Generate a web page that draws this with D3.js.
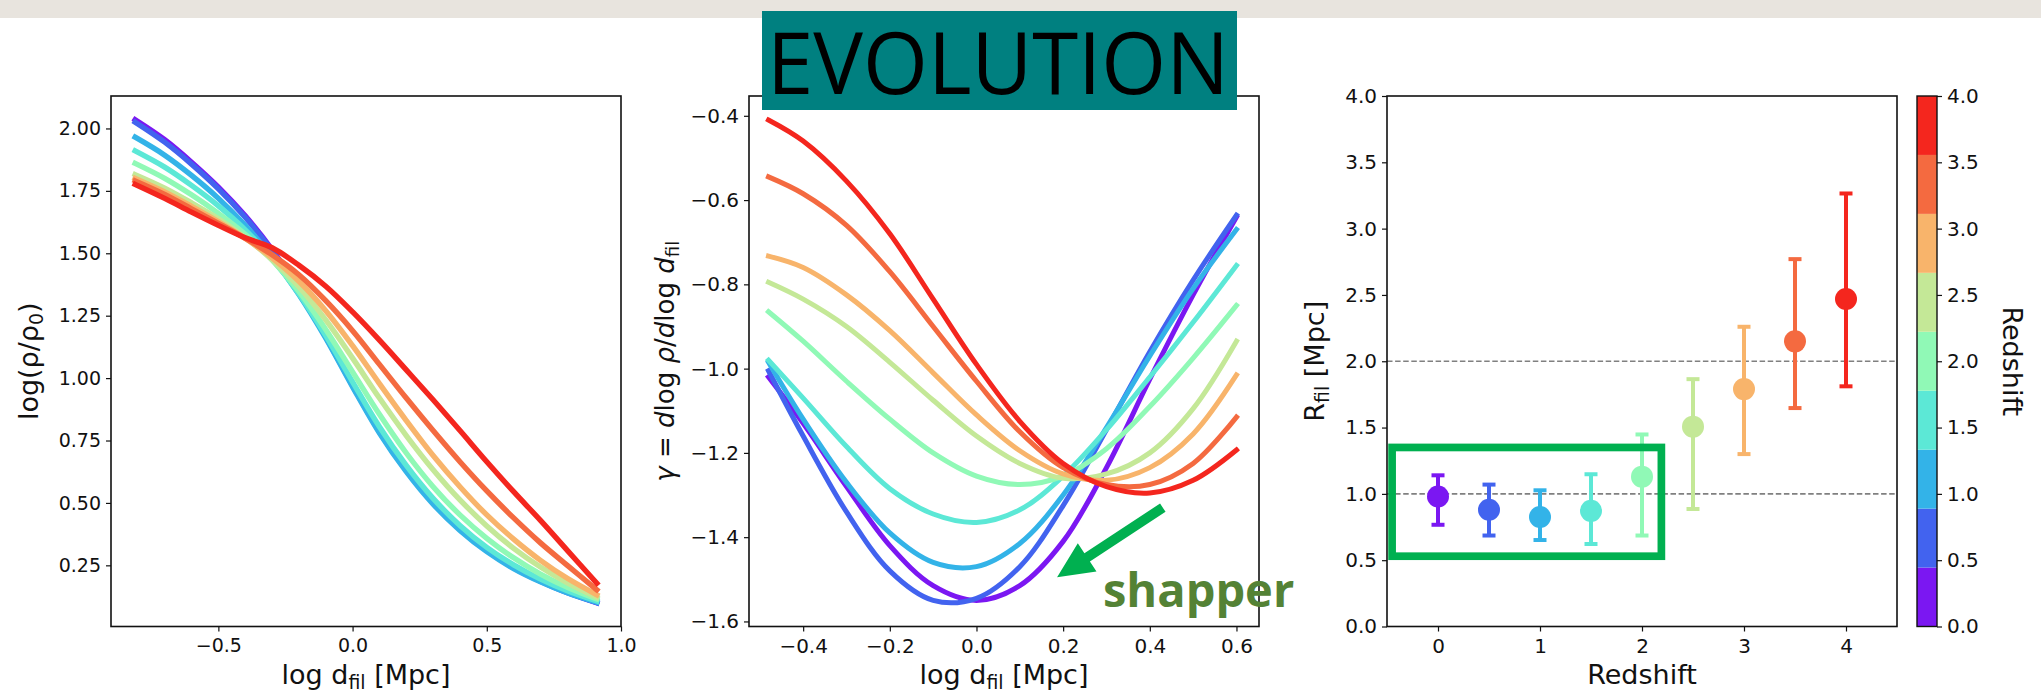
<!DOCTYPE html>
<html>
<head>
<meta charset="utf-8">
<script src="https://cdn.jsdelivr.net/npm/d3@7"></script>
<style>
  body { margin: 0; background: #fff; }
  svg { display: block; }
</style>
</head>
<body>
<div id="chart"></div>
<script>
/**
 * DATA
 * */
const redshifts = [0, 0.5, 1, 1.5, 2, 2.5, 3, 3.5, 4];
const zColors = ["#7b17f2", "#4263ef", "#33b3e8", "#5ce8d6", "#90f9b6",
                 "#c4e897", "#f8b46b", "#f46a40", "#f4261e"];

// left panel: log(rho/rho0) against log d_fil
const densX = [-0.81, -0.7, -0.6, -0.5, -0.4, -0.3, -0.2, -0.1, 0.0, 0.1, 0.2, 0.3, 0.4, 0.5, 0.6, 0.7, 0.8, 0.91];
const dens_z00 = [2.035, 1.955, 1.865, 1.765, 1.65, 1.515, 1.355, 1.17, 0.975, 0.79, 0.635, 0.505, 0.40, 0.315, 0.245, 0.19, 0.143, 0.10];
const dens_z05 = [2.025, 1.945, 1.857, 1.758, 1.644, 1.51, 1.35, 1.165, 0.97, 0.785, 0.63, 0.50, 0.395, 0.31, 0.24, 0.186, 0.14, 0.10];
const dens_z10 = [1.965, 1.893, 1.812, 1.72, 1.612, 1.485, 1.335, 1.16, 0.965, 0.78, 0.625, 0.495, 0.39, 0.305, 0.237, 0.184, 0.14, 0.102];
const dens_z15 = [1.91, 1.845, 1.772, 1.69, 1.594, 1.478, 1.338, 1.17, 0.985, 0.805, 0.65, 0.518, 0.41, 0.322, 0.252, 0.195, 0.148, 0.107];
const dens_z20 = [1.86, 1.80, 1.734, 1.66, 1.576, 1.474, 1.348, 1.195, 1.025, 0.855, 0.70, 0.565, 0.452, 0.358, 0.28, 0.215, 0.162, 0.115];
const dens_z25 = [1.815, 1.761, 1.702, 1.638, 1.563, 1.474, 1.366, 1.233, 1.08, 0.92, 0.77, 0.633, 0.512, 0.408, 0.318, 0.243, 0.18, 0.122];
const dens_z30 = [1.80, 1.746, 1.688, 1.627, 1.56, 1.482, 1.388, 1.27, 1.13, 0.978, 0.83, 0.69, 0.565, 0.452, 0.355, 0.27, 0.198, 0.132];
const dens_z35 = [1.79, 1.736, 1.678, 1.62, 1.56, 1.494, 1.414, 1.31, 1.19, 1.055, 0.92, 0.79, 0.665, 0.548, 0.44, 0.34, 0.25, 0.152];
const dens_z40 = [1.776, 1.72, 1.665, 1.612, 1.562, 1.522, 1.452, 1.368, 1.265, 1.152, 1.033, 0.913, 0.79, 0.665, 0.545, 0.43, 0.31, 0.178];

// middle panel: slope gamma against log d_fil
const slopeX = [-0.48, -0.4, -0.3, -0.2, -0.1, 0.0, 0.1, 0.2, 0.3, 0.4, 0.5, 0.6];
const slope_z00 = [-1.02, -1.13, -1.28, -1.42, -1.515, -1.55, -1.515, -1.41, -1.235, -1.025, -0.825, -0.64];
const slope_z05 = [-1.005, -1.16, -1.34, -1.48, -1.55, -1.545, -1.47, -1.325, -1.145, -0.96, -0.79, -0.636];
const slope_z10 = [-0.985, -1.12, -1.27, -1.39, -1.46, -1.47, -1.415, -1.30, -1.14, -0.97, -0.81, -0.67];
const slope_z15 = [-0.98, -1.07, -1.185, -1.285, -1.345, -1.365, -1.335, -1.255, -1.145, -1.02, -0.89, -0.755];
const slope_z20 = [-0.865, -0.935, -1.03, -1.12, -1.20, -1.255, -1.275, -1.255, -1.19, -1.09, -0.975, -0.85];
const slope_z25 = [-0.795, -0.835, -0.90, -0.985, -1.075, -1.16, -1.225, -1.26, -1.25, -1.20, -1.095, -0.935];
const slope_z30 = [-0.733, -0.76, -0.825, -0.91, -1.01, -1.11, -1.195, -1.25, -1.265, -1.235, -1.155, -1.015];
const slope_z35 = [-0.545, -0.585, -0.66, -0.77, -0.90, -1.03, -1.15, -1.235, -1.275, -1.275, -1.225, -1.115];
const slope_z40 = [-0.41, -0.46, -0.555, -0.68, -0.835, -0.99, -1.125, -1.225, -1.28, -1.295, -1.265, -1.193];

// right panel: filament radius with error bars
const rfil   = [0.98, 0.88, 0.825, 0.872, 1.13, 1.507, 1.79, 2.15, 2.47];
const rfilHi = [1.14, 1.07, 1.027, 1.148, 1.448, 1.865, 2.26, 2.77, 3.265];
const rfilLo = [0.767, 0.686, 0.652, 0.622, 0.686, 0.886, 1.30, 1.647, 1.811];
const refLines = [1.0, 2.0];

// ticks
const densXTicks = [-0.5, 0, 0.5, 1.0];
const densYTicks = [0.25, 0.5, 0.75, 1.0, 1.25, 1.5, 1.75, 2.0];
const slopeXTicks = [-0.4, -0.2, 0, 0.2, 0.4, 0.6];
const slopeYTicks = [-1.6, -1.4, -1.2, -1.0, -0.8, -0.6, -0.4];
const rXTicks = [0, 1, 2, 3, 4];
const rYTicks = [0, 0.5, 1, 1.5, 2, 2.5, 3, 3.5, 4];

const densProfiles = [dens_z00, dens_z05, dens_z10, dens_z15, dens_z20, dens_z25, dens_z30, dens_z35, dens_z40];
const slopeProfiles = [slope_z00, slope_z05, slope_z10, slope_z15, slope_z20, slope_z25, slope_z30, slope_z35, slope_z40];

/**
 * LAYOUT
 * */
const W = 2041, H = 694;
const top0 = 96, bot0 = 626.5;
const boxL = { x0: 111, x1: 621, y0: top0, y1: bot0 };
const boxM = { x0: 749, x1: 1259, y0: top0, y1: bot0 };
const boxR = { x0: 1387, x1: 1897, y0: top0, y1: bot0 };
const cbar = { x0: 1917, x1: 1937, y0: top0, y1: bot0 };
const ink = "#111";
const labelY = 684;

const svg = d3.select("#chart").append("svg")
  .attr("width", W).attr("height", H)
  .attr("font-family", "'DejaVu Sans', sans-serif");

svg.append("rect").attr("width", W).attr("height", H).attr("fill", "#fff");
svg.append("rect").attr("width", W).attr("height", 18).attr("fill", "#e8e4de");

function styleAxis(a, fs) {
  a.select(".domain").remove();
  a.selectAll("text").attr("font-size", fs).attr("font-family", "'DejaVu Sans'").attr("fill", ink);
  a.selectAll("line").attr("stroke", ink).attr("stroke-width", 1.2);
}

function makePanel(box, xDom, yDom, xTicks, yTicks, xFmt, yFmt, fs) {
  const x = d3.scaleLinear().domain(xDom).range([box.x0, box.x1]);
  const y = d3.scaleLinear().domain(yDom).range([box.y1, box.y0]);
  const g = svg.append("g");
  g.append("g").attr("transform", `translate(0,${box.y1})`)
    .call(d3.axisBottom(x).tickValues(xTicks).tickFormat(xFmt).tickSize(5).tickPadding(7))
    .call(a => styleAxis(a, fs));
  g.append("g").attr("transform", `translate(${box.x0},0)`)
    .call(d3.axisLeft(y).tickValues(yTicks).tickFormat(yFmt).tickSize(5).tickPadding(5))
    .call(a => styleAxis(a, fs));
  const plot = g.append("g");
  g.append("rect")
    .attr("x", box.x0).attr("y", box.y0)
    .attr("width", box.x1 - box.x0).attr("height", box.y1 - box.y0)
    .attr("fill", "none").attr("stroke", ink).attr("stroke-width", 1.6);
  return { x, y, g, plot };
}

// text with a subscript part: parts = [[text, "n"|"s"|"i"], ...]
function richText(parent, parts, fs) {
  const t = parent.append("text").attr("text-anchor", "middle").attr("font-size", fs).attr("fill", ink);
  let low = false;
  parts.forEach(([s, kind]) => {
    const sp = t.append("tspan").text(s);
    if (kind === "s" && !low) { sp.attr("dy", fs * 0.2).attr("font-size", fs * 0.7); low = true; }
    else if (kind === "s") { sp.attr("font-size", fs * 0.7); }
    else if (low) { sp.attr("dy", -fs * 0.2); low = false; }
    if (kind === "i") sp.attr("font-style", "italic");
  });
  return t;
}

/**
 * LEFT PANEL
 * */
const pL = makePanel(boxL, [-0.9, 1.0], [0.005, 2.13], densXTicks, densYTicks,
  d3.format(".1f"), d3.format(".2f"), 19);

const lineL = d3.line().x((d, i) => pL.x(densX[i])).y(d => pL.y(d)).curve(d3.curveCatmullRom);
pL.plot.selectAll("path.dens")
  .data(densProfiles)
  .join("path")
  .attr("class", "dens")
  .attr("d", lineL)
  .attr("fill", "none")
  .attr("stroke", (d, i) => zColors[i])
  .attr("stroke-width", 5.4)
  .attr("stroke-linecap", "square");

richText(svg, [["log d", "n"], ["fil", "s"], [" [Mpc]", "n"]], 27)
  .attr("x", (boxL.x0 + boxL.x1) / 2).attr("y", labelY);
richText(svg.append("g").attr("transform", `translate(38,${(top0 + bot0) / 2}) rotate(-90)`),
  [["log(ρ/ρ", "n"], ["0", "s"], [")", "n"]], 27);

/**
 * MIDDLE PANEL
 * */
const pM = makePanel(boxM, [-0.525, 0.652], [-1.612, -0.353], slopeXTicks, slopeYTicks,
  d3.format(".1f"), d3.format(".1f"), 20);

const lineM = d3.line().x((d, i) => pM.x(slopeX[i])).y(d => pM.y(d)).curve(d3.curveCatmullRom);
pM.plot.selectAll("path.slope")
  .data(slopeProfiles)
  .join("path")
  .attr("class", "slope")
  .attr("d", lineM)
  .attr("fill", "none")
  .attr("stroke", (d, i) => zColors[i])
  .attr("stroke-width", 5)
  .attr("stroke-linecap", "square");

richText(svg, [["log d", "n"], ["fil", "s"], [" [Mpc]", "n"]], 27)
  .attr("x", (boxM.x0 + boxM.x1) / 2).attr("y", labelY);
richText(svg.append("g").attr("transform", `translate(674,${(top0 + bot0) / 2}) rotate(-90)`),
  [["γ", "i"], [" = ", "n"], ["d", "i"], ["log ", "n"], ["ρ", "i"], ["/", "n"], ["d", "i"],
   ["log ", "n"], ["d", "i"], ["fil", "s"]], 26);

// "shapper" arrow annotation (data coords of the middle panel)
const arrowFrom = [0.43, -1.33], arrowTo = [0.186, -1.495];
{
  const [x1, y1] = [pM.x(arrowFrom[0]), pM.y(arrowFrom[1])];
  const [x2, y2] = [pM.x(arrowTo[0]), pM.y(arrowTo[1])];
  const len = Math.hypot(x2 - x1, y2 - y1);
  const ux = (x2 - x1) / len, uy = (y2 - y1) / len, nx = -uy, ny = ux;
  const shaft = 5, head = 17, headLen = 36;
  const bx = x2 - ux * headLen, by = y2 - uy * headLen;
  const pts = [
    [x1 + nx * shaft, y1 + ny * shaft], [bx + nx * shaft, by + ny * shaft],
    [bx + nx * head, by + ny * head], [x2, y2],
    [bx - nx * head, by - ny * head], [bx - nx * shaft, by - ny * shaft],
    [x1 - nx * shaft, y1 - ny * shaft]
  ];
  svg.append("polygon").attr("points", pts.map(p => p.join(",")).join(" ")).attr("fill", "#00b050");
}
svg.append("text")
  .attr("x", pM.x(0.292)).attr("y", pM.y(-1.565))
  .attr("font-family", "'Open Sans', sans-serif").attr("font-weight", 700)
  .attr("font-size", 47).attr("fill", "#548235")
  .text("shapper");

/**
 * RIGHT PANEL
 * */
const pR = makePanel(boxR, [-0.5, 4.5], [0, 4], rXTicks, rYTicks,
  d3.format("d"), d3.format(".1f"), 20);

pR.plot.selectAll("line.ref")
  .data(refLines)
  .join("line")
  .attr("class", "ref")
  .attr("x1", boxR.x0).attr("x2", boxR.x1)
  .attr("y1", d => pR.y(d)).attr("y2", d => pR.y(d))
  .attr("stroke", "#808080").attr("stroke-width", 1.6)
  .attr("stroke-dasharray", "5.5,2.6");

const pts = redshifts.map((z, i) => ({ z, v: rfil[i], lo: rfilLo[i], hi: rfilHi[i], c: zColors[i] }));
const eb = pR.plot.selectAll("g.eb").data(pts).join("g").attr("class", "eb");
eb.append("line")
  .attr("x1", d => pR.x(d.z)).attr("x2", d => pR.x(d.z))
  .attr("y1", d => pR.y(d.lo)).attr("y2", d => pR.y(d.hi))
  .attr("stroke", d => d.c).attr("stroke-width", 4);
eb.selectAll("line.cap")
  .data(d => [d.lo, d.hi].map(v => ({ z: d.z, v, c: d.c })))
  .join("line")
  .attr("class", "cap")
  .attr("x1", d => pR.x(d.z) - 6.5).attr("x2", d => pR.x(d.z) + 6.5)
  .attr("y1", d => pR.y(d.v)).attr("y2", d => pR.y(d.v))
  .attr("stroke", d => d.c).attr("stroke-width", 4);
eb.append("circle")
  .attr("cx", d => pR.x(d.z)).attr("cy", d => pR.y(d.v))
  .attr("r", 11).attr("fill", d => d.c);

// green highlight box
const boxZ = [-0.45, 2.19], boxV = [0.53, 1.35];
svg.append("rect")
  .attr("x", pR.x(boxZ[0])).attr("y", pR.y(boxV[1]))
  .attr("width", pR.x(boxZ[1]) - pR.x(boxZ[0]))
  .attr("height", pR.y(boxV[0]) - pR.y(boxV[1]))
  .attr("fill", "none").attr("stroke", "#00b050").attr("stroke-width", 7.7);

svg.append("text")
  .attr("x", (boxR.x0 + boxR.x1) / 2).attr("y", labelY)
  .attr("text-anchor", "middle").attr("font-size", 27).attr("fill", ink)
  .text("Redshift");
richText(svg.append("g").attr("transform", `translate(1324,${(top0 + bot0) / 2}) rotate(-90)`),
  [["R", "n"], ["fil", "s"], [" [Mpc]", "n"]], 27);

/**
 * COLORBAR
 * */
const cy = d3.scaleLinear().domain([0, 4]).range([cbar.y1, cbar.y0]);
const binEdges = d3.range(redshifts.length + 1).map(i => i * 4 / redshifts.length);
svg.append("g").selectAll("rect")
  .data(zColors)
  .join("rect")
  .attr("x", cbar.x0).attr("width", cbar.x1 - cbar.x0)
  .attr("y", (d, i) => cy(binEdges[i + 1]))
  .attr("height", (d, i) => cy(binEdges[i]) - cy(binEdges[i + 1]))
  .attr("fill", d => d);
svg.append("rect")
  .attr("x", cbar.x0).attr("y", cbar.y0)
  .attr("width", cbar.x1 - cbar.x0).attr("height", cbar.y1 - cbar.y0)
  .attr("fill", "none").attr("stroke", ink).attr("stroke-width", 1.4);
svg.append("g").attr("transform", `translate(${cbar.x1},0)`)
  .call(d3.axisRight(cy).tickValues(rYTicks).tickFormat(d3.format(".1f")).tickSize(5).tickPadding(5))
  .call(a => styleAxis(a, 20));
svg.append("text")
  .attr("transform", `translate(2003,${(top0 + bot0) / 2}) rotate(90)`)
  .attr("text-anchor", "middle").attr("font-size", 27).attr("fill", ink)
  .text("Redshift");

/**
 * TITLE
 * */
svg.append("rect").attr("x", 762).attr("y", 11).attr("width", 475).attr("height", 99).attr("fill", "#008080");
svg.append("text")
  .attr("x", 998).attr("y", 94)
  .attr("text-anchor", "middle")
  .attr("font-family", "'Open Sans', sans-serif")
  .attr("font-size", 86).attr("fill", "#000")
  .attr("textLength", 462).attr("lengthAdjust", "spacingAndGlyphs")
  .text("EVOLUTION");
</script>
</body>
</html>
